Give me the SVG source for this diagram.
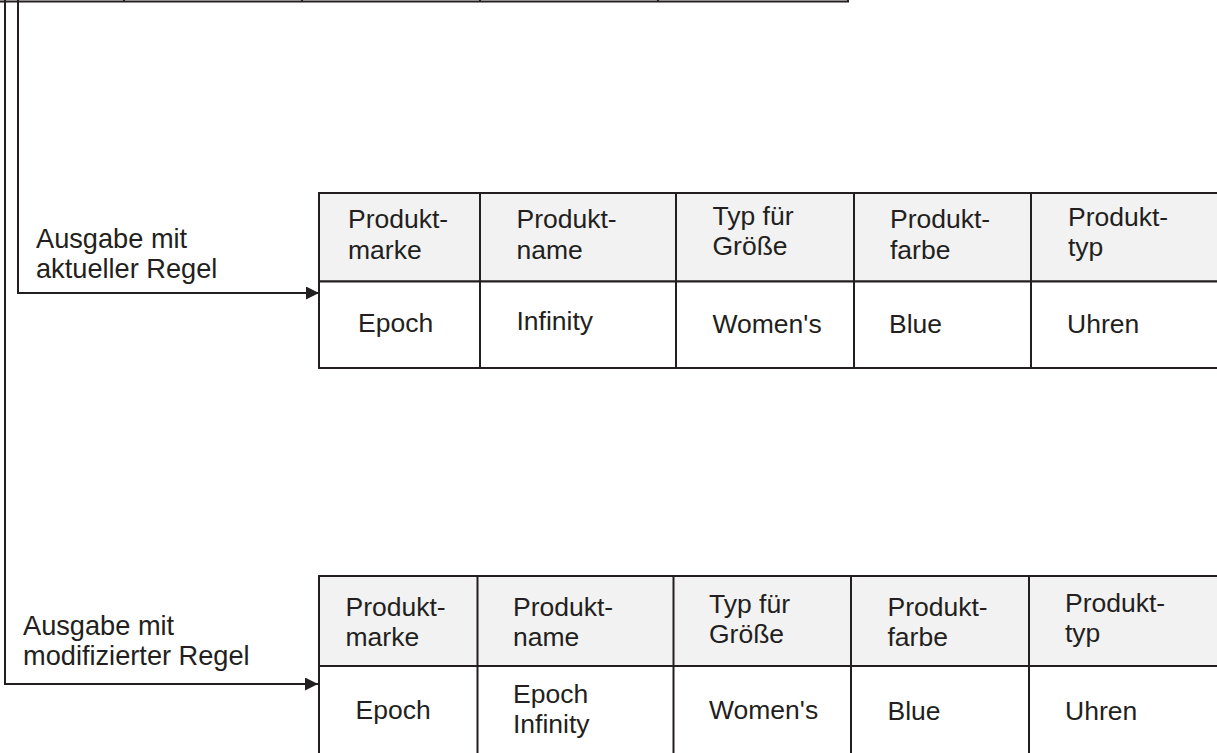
<svg xmlns="http://www.w3.org/2000/svg" width="1217" height="753" viewBox="0 0 1217 753">
<defs>
<style>
.ln{fill:none;stroke:#231f20;stroke-width:2}
.hd{fill:#f2f2f2;stroke:#231f20;stroke-width:2}
.bd{fill:#ffffff;stroke:#231f20;stroke-width:2}
.t{font-family:"Liberation Sans",Arial,sans-serif;font-size:26.5px;fill:#231f20}
.lb{font-size:27.2px}
</style>
<marker id="arr" markerUnits="userSpaceOnUse" markerWidth="14" markerHeight="14" refX="13" refY="6.5" orient="auto">
<path d="M0,0 L13,6.5 L0,13 z" fill="#231f20"/>
</marker>
</defs>
<rect width="1217" height="753" fill="#ffffff"/>

<g id="top-table-edge">
<path class="ln" d="M0,1.5 H848 V0 M124,0 V2 M302,0 V2 M480,0 V2 M658,0 V2" stroke-width="3"/>
</g>

<g id="connectors">
<path class="ln" d="M18,0 V293 H319" marker-end="url(#arr)"/>
<path class="ln" d="M5,0 V684 H318" marker-end="url(#arr)"/>
</g>

<g id="label1">
<text class="t lb" x="36" y="248">Ausgabe mit</text>
<text class="t lb" x="36" y="278">aktueller Regel</text>
</g>

<g id="label2">
<text class="t lb" x="23" y="635">Ausgabe mit</text>
<text class="t lb" x="23" y="665">modifizierter Regel</text>
</g>

<g id="table1">
<rect class="hd" x="319" y="193" width="920" height="88.5"/>
<rect class="bd" x="319" y="281.5" width="920" height="86.5"/>
<path class="ln" d="M480,193 V368 M676,193 V368 M854,193 V368 M1031,193 V368"/>
<text class="t" x="348" y="228">Produkt-</text>
<text class="t" x="348" y="259">marke</text>
<text class="t" x="516.5" y="228">Produkt-</text>
<text class="t" x="516.5" y="259">name</text>
<text class="t" x="712.5" y="225">Typ für</text>
<text class="t" x="712.5" y="255">Größe</text>
<text class="t" x="890" y="228">Produkt-</text>
<text class="t" x="890" y="259">farbe</text>
<text class="t" x="1068" y="225.5">Produkt-</text>
<text class="t" x="1068" y="255.5">typ</text>
<text class="t" x="358" y="331.5">Epoch</text>
<text class="t" x="516.5" y="330">Infinity</text>
<text class="t" x="712.5" y="333">Women's</text>
<text class="t" x="889" y="333">Blue</text>
<text class="t" x="1067" y="333">Uhren</text>
</g>

<g id="table2">
<rect class="hd" x="319" y="576" width="920" height="90"/>
<rect class="bd" x="319" y="666" width="920" height="100"/>
<path class="ln" d="M477.5,576 V760 M673.5,576 V760 M851,576 V760 M1029,576 V760"/>
<text class="t" x="345.5" y="615.5">Produkt-</text>
<text class="t" x="345.5" y="645.5">marke</text>
<text class="t" x="513" y="616">Produkt-</text>
<text class="t" x="513" y="646">name</text>
<text class="t" x="709" y="613">Typ für</text>
<text class="t" x="709" y="642.5">Größe</text>
<text class="t" x="887.5" y="616">Produkt-</text>
<text class="t" x="887.5" y="646">farbe</text>
<text class="t" x="1065" y="611.5">Produkt-</text>
<text class="t" x="1065" y="641.5">typ</text>
<text class="t" x="355.5" y="718.5">Epoch</text>
<text class="t" x="513" y="703">Epoch</text>
<text class="t" x="513" y="733">Infinity</text>
<text class="t" x="709" y="719">Women's</text>
<text class="t" x="887.5" y="720">Blue</text>
<text class="t" x="1065" y="720">Uhren</text>
</g>
</svg>
